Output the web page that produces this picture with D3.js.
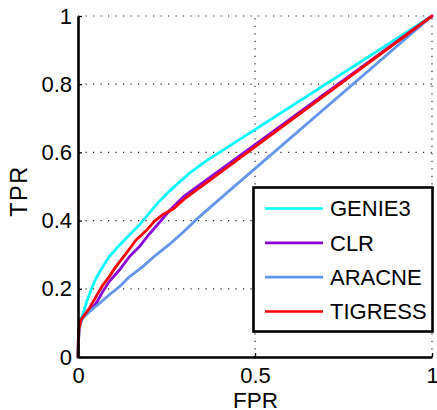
<!DOCTYPE html>
<html>
<head>
<meta charset="utf-8">
<script src="https://cdn.jsdelivr.net/npm/d3@7/dist/d3.min.js"></script>
<style>
  html, body { margin: 0; padding: 0; background: #fff; }
  svg { display: block; font-family: "Liberation Sans", Arial, Helvetica, sans-serif; }
</style>
</head>
<body>
<svg id="chart" width="437" height="410"></svg>
<script>
// ROC curves of four network-inference methods
const seriesNames = ["GENIE3", "CLR", "ARACNE", "TIGRESS"];
const seriesColors = ["#00FFFF", "#8B00D6", "#6495ED", "#FF0000"];

const fprGenie3 = [0, 0.001, 0.003, 0.007, 0.012, 0.018, 0.027, 0.037, 0.051, 0.07, 0.088, 0.117, 0.145, 0.173, 0.203, 0.23, 0.26, 0.29, 0.316, 0.359, 1];
const tprGenie3 = [0, 0.05, 0.085, 0.108, 0.12, 0.14, 0.17, 0.197, 0.231, 0.265, 0.294, 0.328, 0.358, 0.387, 0.424, 0.457, 0.488, 0.516, 0.54, 0.573, 1];

const fprClr = [0, 0.001, 0.003, 0.008, 0.018, 0.035, 0.051, 0.07, 0.088, 0.117, 0.145, 0.173, 0.201, 0.232, 0.26, 0.3, 1];
const tprClr = [0, 0.05, 0.085, 0.108, 0.122, 0.138, 0.157, 0.192, 0.221, 0.255, 0.294, 0.323, 0.36, 0.397, 0.431, 0.472, 1];

const fprAracne = [0, 0.001, 0.004, 0.008, 0.013, 0.032, 0.06, 0.088, 0.117, 0.145, 0.183, 0.22, 0.258, 0.296, 0.333, 0.4, 1];
const tprAracne = [0, 0.04, 0.08, 0.1, 0.113, 0.133, 0.157, 0.182, 0.206, 0.235, 0.265, 0.299, 0.33, 0.365, 0.402, 0.463, 1];

const fprTigress = [0, 0.001, 0.003, 0.008, 0.018, 0.032, 0.051, 0.07, 0.088, 0.107, 0.136, 0.164, 0.192, 0.215, 0.24, 0.27, 0.3, 1];
const tprTigress = [0, 0.05, 0.085, 0.108, 0.123, 0.143, 0.177, 0.211, 0.235, 0.265, 0.304, 0.343, 0.37, 0.397, 0.418, 0.435, 0.463, 1];

const yTicks = [0, 0.2, 0.4, 0.6, 0.8, 1];
const xTicks = [0, 0.5, 1];
const yGrid = [0.2, 0.4, 0.6, 0.8, 1];
const xGrid = [0.5, 1];

const series = [
  { name: seriesNames[0], color: seriesColors[0], fpr: fprGenie3, tpr: tprGenie3 },
  { name: seriesNames[1], color: seriesColors[1], fpr: fprClr, tpr: tprClr },
  { name: seriesNames[2], color: seriesColors[2], fpr: fprAracne, tpr: tprAracne },
  { name: seriesNames[3], color: seriesColors[3], fpr: fprTigress, tpr: tprTigress }
];

const svg = d3.select("#chart");
const x = d3.scaleLinear().domain([0, 1]).range([78, 432]);
const y = d3.scaleLinear().domain([0, 1]).range([357, 16]);

// dotted grid
const grid = svg.append("g")
  .attr("stroke", "#222")
  .attr("stroke-width", 1.2)
  .attr("stroke-dasharray", "1.2,6.3");
grid.selectAll("line.h").data(yGrid).join("line")
  .attr("class", "h")
  .attr("x1", x(0)).attr("x2", x(1))
  .attr("y1", d => y(d)).attr("y2", d => y(d));
grid.selectAll("line.v").data(xGrid).join("line")
  .attr("class", "v")
  .attr("x1", d => x(d)).attr("x2", d => x(d))
  .attr("y1", y(0)).attr("y2", y(1));

// curves
const line = d3.line()
  .x(d => x(d[0]))
  .y(d => y(d[1]));
svg.append("g").selectAll("path").data(series).join("path")
  .attr("d", s => line(s.fpr.map((f, i) => [f, s.tpr[i]])))
  .attr("fill", "none")
  .attr("stroke", s => s.color)
  .attr("stroke-width", 2.8)
  .attr("stroke-linejoin", "round")
  .attr("stroke-linecap", "round");

// axes
const yAxis = d3.axisLeft(y)
  .tickValues(yTicks)
  .tickFormat(d3.format("~g"))
  .tickSizeInner(-4)
  .tickSizeOuter(0)
  .tickPadding(6);
const xAxis = d3.axisBottom(x)
  .tickValues(xTicks)
  .tickFormat(d3.format("~g"))
  .tickSizeInner(-4)
  .tickSizeOuter(0)
  .tickPadding(10);

const gy = svg.append("g").attr("transform", `translate(${x(0)},0)`).call(yAxis);
const gx = svg.append("g").attr("transform", `translate(0,${y(0)})`).call(xAxis);
[gx, gy].forEach(g => {
  g.select(".domain").attr("stroke", "#000").attr("stroke-width", 2.6);
  g.selectAll(".tick line").attr("stroke", "#000").attr("stroke-width", 1.3);
  g.selectAll(".tick text").attr("fill", "#000").attr("font-size", 22)
    .attr("font-family", "\"Liberation Sans\", Arial, Helvetica, sans-serif");
});

// axis titles
svg.append("text")
  .attr("x", 255.5).attr("y", 408)
  .attr("text-anchor", "middle")
  .attr("font-size", 22.5)
  .text("FPR");
svg.append("text")
  .attr("transform", "translate(27,191) rotate(-90)")
  .attr("text-anchor", "middle")
  .attr("font-size", 23.5)
  .attr("letter-spacing", 1.5)
  .text("TPR");

// legend
const legend = svg.append("g");
legend.append("rect")
  .attr("x", 253.5).attr("y", 187.5)
  .attr("width", 179).attr("height", 144)
  .attr("fill", "#fff")
  .attr("stroke", "#000")
  .attr("stroke-width", 2.6);
const rowY = d3.scalePoint().domain(seriesNames).range([208.5, 311.5]);
const item = legend.selectAll("g.item").data(series).join("g")
  .attr("class", "item")
  .attr("transform", s => `translate(0,${rowY(s.name)})`);
item.append("line")
  .attr("x1", 265).attr("x2", 323)
  .attr("stroke", s => s.color)
  .attr("stroke-width", 2.7);
item.append("text")
  .attr("x", 330).attr("y", 0)
  .attr("dy", "0.36em")
  .attr("font-size", 22)
  .text(s => s.name);
</script>
</body>
</html>
